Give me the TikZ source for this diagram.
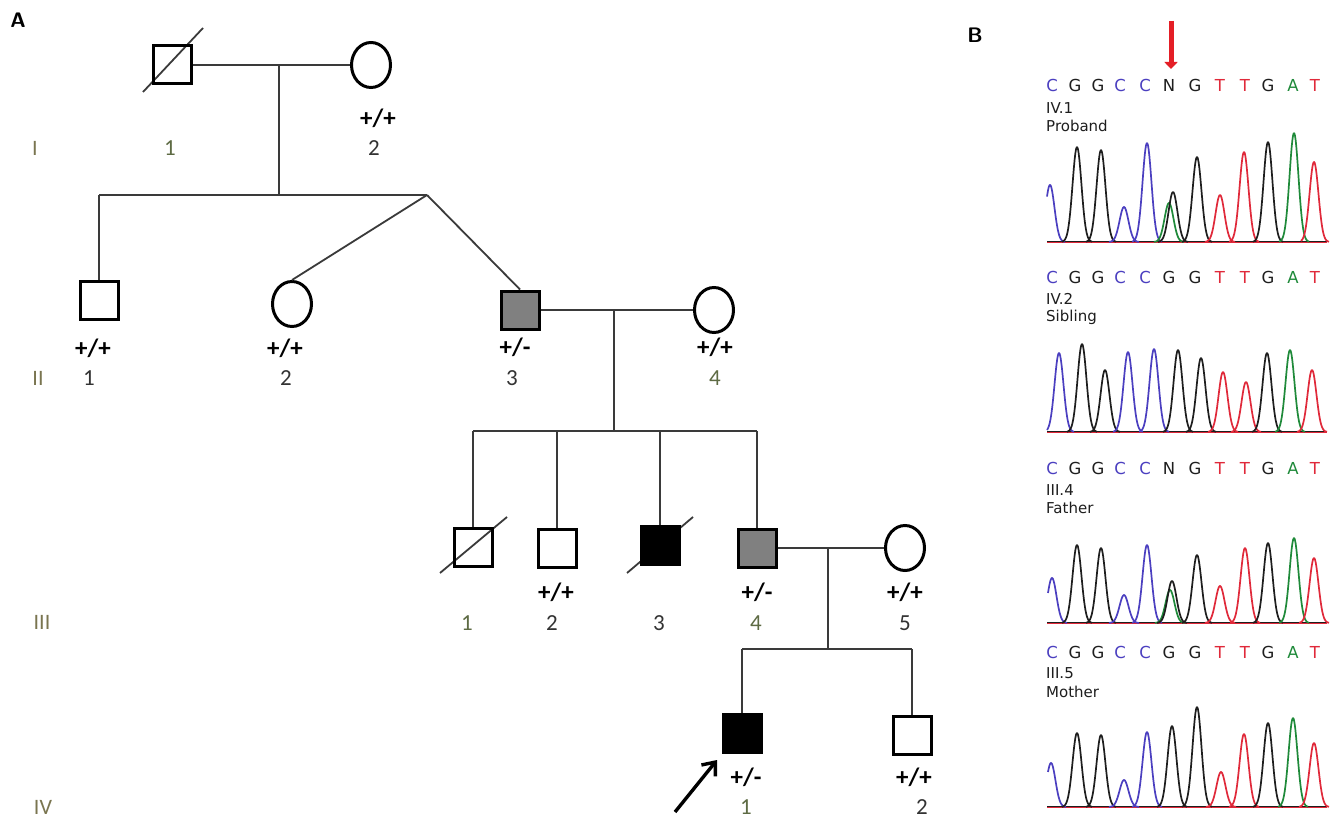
\documentclass[tikz,border=0pt]{standalone}
\usepackage{fontspec}
\setmainfont{Carlito}
\newfontfamily\seqfont{DejaVu Sans}
\usetikzlibrary{shapes.geometric,arrows.meta,calc}

\definecolor{linegray}{HTML}{3A3A3A}
\definecolor{carrier}{HTML}{808080}
\definecolor{numcol}{HTML}{333333}
\definecolor{olivenum}{HTML}{5E6B44}
\definecolor{gencol}{HTML}{7A7550}
\definecolor{baseC}{HTML}{4B3FC0}
\definecolor{baseG}{HTML}{1E1E1E}
\definecolor{baseT}{HTML}{E0293A}
\definecolor{baseA}{HTML}{1F8A3A}
\definecolor{mutred}{HTML}{E41E26}

% one trace peak: colour, centre, top, baseline, left reach
\newcommand\chrompeak[5]{%
  \pgfmathsetmacro\pkL{#2-#5}\pgfmathsetmacro\pkR{#2+15}%
  \draw[#1, trace] plot[domain=\pkL:\pkR, samples=46]
    (\x,{#4-(#4-#3)*exp(0-((\x-#2)/6.3)^2)});}

% one row of called bases; #1 row name, #2 y, #3 sixth base
\newcommand\seqrow[3]{%
  \foreach \xx/\bb/\cc [count=\i] in {1052/C/baseC,1075/G/baseG,1098/G/baseG,
      1120/C/baseC,1145/C/baseC,1169/#3/baseG,1195/G/baseG,1220/T/baseT,
      1245/T/baseT,1268/G/baseG,1293/A/baseA,1315/T/baseT}
    \node[seq, text=\cc] (#1b\i) at (\xx,#2) {\bb};}

% trace baseline
\newcommand\tracebase[1]{%
  \draw[baseT, line width=1.2pt] (1047,#1) -- (1327,#1);
  \draw[baseG, line width=0.5pt] (1047,#1-0.8) -- (1327,#1-0.8);}

\begin{document}
\begin{tikzpicture}[x=1pt,y=-1pt,
  conn/.style={draw=linegray, line width=1.8pt},
  slashline/.style={draw=linegray, line width=1.8pt},
  male/.style={rectangle, draw=black, line width=3pt, minimum size=38pt, inner sep=0pt},
  female/.style={ellipse, draw=black, line width=3pt, minimum width=39pt, minimum height=45pt, inner sep=0pt},
  carrierfill/.style={fill=carrier},
  affected/.style={fill=black},
  geno/.style={font=\bfseries\fontsize{25}{27}\selectfont, inner sep=0pt, text=black},
  idnum/.style={font=\fontsize{23}{26}\selectfont, inner sep=0pt, text=numcol},
  idolive/.style={idnum, text=olivenum},
  gen/.style={font=\fontsize{22}{26}\selectfont, inner sep=0pt, text=gencol},
  panel/.style={font=\sffamily\bfseries\fontsize{21}{24}\selectfont, inner sep=0pt},
  seq/.style={font=\seqfont\fontsize{16.5}{19}\selectfont, inner sep=0pt},
  sample/.style={font=\seqfont\fontsize{15}{17}\selectfont, inner sep=0pt, anchor=west, text=baseG},
  trace/.style={line width=1.7pt, line join=round}]

\fill[white] (0,0) rectangle (1339,821);
\useasboundingbox (0,0) rectangle (1339,821);

% ---------- panel A: pedigree ----------
\node[panel] (labA) at (18,20) {A};

% deceased marks (under the symbols)
\draw[slashline] (143,92) -- (203,28);
\draw[slashline] (440,573) -- (507,517);
\draw[slashline] (627,573) -- (693,517);

% generation I
\node[male] (I1) at (172,65) {};
\node[female] (I2) at (371,65) {};
% generation II
\node[male] (II1) at (99,300) {};
\node[female] (II2) at (292,304) {};
\node[male, carrierfill] (II3) at (520,310) {};
\node[female] (II4) at (714,310) {};
% generation III
\node[male] (III1) at (473,547) {};
\node[male] (III2) at (557,548) {};
\node[male, affected] (III3) at (660,545) {};
\node[male, carrierfill] (III4) at (757,548) {};
\node[female] (III5) at (905,548) {};
% generation IV
\node[male, affected] (IV1) at (742,733) {};
\node[male] (IV2) at (912,735) {};

% mating and sibship lines
\coordinate (mI) at (279,65);
\coordinate (sI) at (279,195);
\coordinate (sIL) at (99,195);
\coordinate (sIR) at (427,195);
\draw[conn] (I1.east) -- (I2.west);
\draw[conn] (mI) -- (sI);
\draw[conn] (sIL) -- (sIR);
\draw[conn] (sIL) -- (II1.north);
\draw[conn] (sIR) -- (II2.north);
\draw[conn] (sIR) -- (II3.north);

\coordinate (mII) at (614,310);
\coordinate (sII) at (614,431);
\draw[conn] (II3.east) -- (II4.west);
\draw[conn] (mII) -- (sII);
\draw[conn] (III1 |- sII) -- (III4 |- sII);
\foreach \c in {III1,III2,III3,III4}
  \draw[conn] (\c |- sII) -- (\c.north);

\coordinate (mIII) at (828,548);
\coordinate (sIII) at (828,649);
\draw[conn] (III4.east) -- (III5.west);
\draw[conn] (mIII) -- (sIII);
\draw[conn] (IV1 |- sIII) -- (IV2 |- sIII);
\draw[conn] (IV1 |- sIII) -- (IV1.north);
\draw[conn] (IV2 |- sIII) -- (IV2.north);

% proband arrow
\coordinate (pbTail) at (675,812);
\coordinate (pbHead) at (717,760);
\draw[line width=3.4pt, -{Straight Barb[length=11pt,width=18pt]}] (pbTail) -- (pbHead);

% generation numerals
\node[gen] (gI) at (35,148) {I};
\node[gen] (gII) at (38,378) {II};
\node[gen] (gIII) at (42,622) {III};
\node[gen] (gIV) at (43,807) {IV};

% genotypes and individual numbers
\node[idolive] (nI1) at (170,148) {1};
\node[geno] (tI2) at (378,118) {+/+};
\node[idnum] (nI2) at (374,148) {2};

\node[geno] (tII1) at (93,348) {+/+};
\node[idnum] (nII1) at (89,378) {1};
\node[geno] (tII2) at (285,348) {+/+};
\node[idnum] (nII2) at (286,378) {2};
\node[geno] (tII3) at (515,347) {+/-};
\node[idnum] (nII3) at (512,378) {3};
\node[geno] (tII4) at (715,347) {+/+};
\node[idolive] (nII4) at (715,378) {4};

\node[idolive] (nIII1) at (467,623) {1};
\node[geno] (tIII2) at (556,592) {+/+};
\node[idnum] (nIII2) at (552,623) {2};
\node[idnum] (nIII3) at (659,623) {3};
\node[geno] (tIII4) at (757,592) {+/-};
\node[idolive] (nIII4) at (756,623) {4};
\node[geno] (tIII5) at (905,592) {+/+};
\node[idnum] (nIII5) at (905,623) {5};

\node[geno] (tIV1) at (746,777) {+/-};
\node[idolive] (nIV1) at (746,807) {1};
\node[geno] (tIV2) at (914,777) {+/+};
\node[idnum] (nIV2) at (922,807) {2};

% ---------- panel B: sequence traces ----------
\node[panel] (labB) at (975,35) {B};

\coordinate (mutTop) at (1171,21);
\coordinate (mutTip) at (1171,69);
\draw[mutred, line width=5pt, -{Triangle[length=7pt,width=13pt]}] (mutTop) -- (mutTip);

% IV.1 proband
\seqrow{ra}{85}{N}
\node[sample] (ra1) at (1046,108) {IV.1};
\node[sample] (ra2) at (1046,126) {Proband};
\tracebase{242}
\chrompeak{baseC}{1050}{185}{242}{3}
\chrompeak{baseG}{1077}{147}{242}{15}
\chrompeak{baseG}{1101}{150}{242}{15}
\chrompeak{baseC}{1124}{207}{242}{15}
\chrompeak{baseC}{1147}{143}{242}{15}
\chrompeak{baseA}{1169}{203}{242}{15}
\chrompeak{baseG}{1173}{192}{242}{15}
\chrompeak{baseG}{1197}{157}{242}{15}
\chrompeak{baseT}{1220}{195}{242}{15}
\chrompeak{baseT}{1244}{152}{242}{15}
\chrompeak{baseG}{1268}{142}{242}{15}
\chrompeak{baseA}{1294}{133}{242}{15}
\chrompeak{baseT}{1314}{162}{242}{13}

% IV.2 sibling
\seqrow{rb}{277}{G}
\node[sample] (rb1) at (1046,299) {IV.2};
\node[sample] (rb2) at (1046,317) {Sibling};
\tracebase{432}
\chrompeak{baseC}{1059}{353}{432}{12}
\chrompeak{baseG}{1082}{344}{432}{15}
\chrompeak{baseG}{1105}{370}{432}{15}
\chrompeak{baseC}{1128}{352}{432}{15}
\chrompeak{baseC}{1154}{349}{432}{15}
\chrompeak{baseG}{1178}{350}{432}{15}
\chrompeak{baseG}{1201}{358}{432}{15}
\chrompeak{baseT}{1223}{372}{432}{15}
\chrompeak{baseT}{1246}{382}{432}{15}
\chrompeak{baseG}{1267}{353}{432}{15}
\chrompeak{baseA}{1290}{350}{432}{15}
\chrompeak{baseT}{1312}{370}{432}{15}

% III.4 father
\seqrow{rc}{468}{N}
\node[sample] (rc1) at (1046,490) {III.4};
\node[sample] (rc2) at (1046,508) {Father};
\tracebase{623}
\chrompeak{baseC}{1052}{578}{623}{4}
\chrompeak{baseG}{1077}{545}{623}{15}
\chrompeak{baseG}{1101}{548}{623}{15}
\chrompeak{baseC}{1124}{595}{623}{15}
\chrompeak{baseC}{1147}{545}{623}{15}
\chrompeak{baseA}{1170}{590}{623}{15}
\chrompeak{baseG}{1172}{581}{623}{15}
\chrompeak{baseG}{1197}{555}{623}{15}
\chrompeak{baseT}{1220}{586}{623}{15}
\chrompeak{baseT}{1245}{548}{623}{15}
\chrompeak{baseG}{1268}{543}{623}{15}
\chrompeak{baseA}{1294}{538}{623}{15}
\chrompeak{baseT}{1314}{558}{623}{15}

% III.5 mother
\seqrow{rd}{652}{G}
\node[sample] (rd1) at (1046,673) {III.5};
\node[sample] (rd2) at (1046,692) {Mother};
\tracebase{807}
\chrompeak{baseC}{1051}{763}{807}{3}
\chrompeak{baseG}{1077}{733}{807}{15}
\chrompeak{baseG}{1101}{735}{807}{15}
\chrompeak{baseC}{1124}{780}{807}{15}
\chrompeak{baseC}{1147}{732}{807}{15}
\chrompeak{baseG}{1172}{726}{807}{15}
\chrompeak{baseG}{1197}{707}{807}{15}
\chrompeak{baseT}{1221}{772}{807}{15}
\chrompeak{baseT}{1244}{734}{807}{15}
\chrompeak{baseG}{1268}{723}{807}{15}
\chrompeak{baseA}{1293}{718}{807}{15}
\chrompeak{baseT}{1314}{743}{807}{15}

\end{tikzpicture}
\end{document}
